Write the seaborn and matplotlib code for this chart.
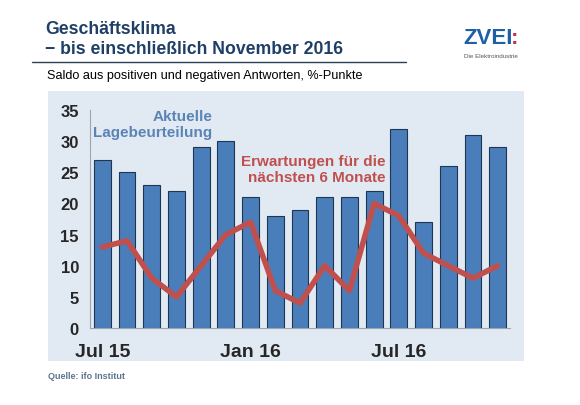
import matplotlib.pyplot as plt
import matplotlib.patches as patches
import seaborn as sns
import pandas as pd

# Monate Jul 15 .. Nov 16
months = ['Jul 15', 'Aug 15', 'Sep 15', 'Okt 15', 'Nov 15', 'Dez 15',
          'Jan 16', 'Feb 16', 'Mrz 16', 'Apr 16', 'Mai 16', 'Jun 16',
          'Jul 16', 'Aug 16', 'Sep 16', 'Okt 16', 'Nov 16']
lage = [27, 25, 23, 22, 29, 30, 21, 18, 19, 21, 21, 22, 32, 17, 26, 31, 29]
erwartungen = [13, 14, 8, 5, 10, 15, 17, 6, 4, 10, 6, 20, 18, 12, 10, 8, 10]
shown_ticks = ['Jul 15', 'Jan 16', 'Jul 16']

bar_color = '#4a7ebb'
line_color = '#c0504d'
panel_color = '#e1eaf3'

df = pd.DataFrame({'monat': months, 'lage': lage, 'erw': erwartungen})

sns.set_style('white')
plt.rcParams['font.family'] = ['Liberation Sans', 'DejaVu Sans']

fig = plt.figure(figsize=(5.8, 4.06), dpi=100)

# hellblauer Hintergrund hinter dem Diagramm
fig.patches.append(patches.Rectangle((48 / 580, 44 / 406), 476 / 580, 270 / 406,
                                     transform=fig.transFigure, facecolor=panel_color,
                                     edgecolor='none', zorder=-10))

ax = fig.add_axes([90 / 580, 77 / 406, 420 / 580, 218 / 406])
ax.set_facecolor('none')

sns.barplot(data=df, x='monat', y='lage', order=months, color=bar_color,
            saturation=1, width=0.68, edgecolor='#1f3550', linewidth=0.8, ax=ax)
sns.lineplot(data=df, x='monat', y='erw', color=line_color, linewidth=4,
             sort=False, ax=ax)

ax.set_xlim(-0.5, 16.5)
ax.set_ylim(0, 35)
ax.set_yticks(range(0, 36, 5))
ax.set_yticklabels([str(v) for v in range(0, 36, 5)], fontsize=12, fontweight='bold')
ax.set_xticks([months.index(m) for m in shown_ticks])
ax.set_xticklabels(shown_ticks, fontsize=14, fontweight='bold')
ax.tick_params(axis='x', length=0, pad=11)
ax.tick_params(axis='y', length=0, pad=8)
ax.set_xlabel('')
ax.set_ylabel('')
for s in ['top', 'right']:
    ax.spines[s].set_visible(False)
ax.spines['left'].set_color('#9aa5b1')
ax.spines['bottom'].set_color('#9aa5b1')

ax.text(4.45, 35.2, 'Aktuelle\nLagebeurteilung', ha='right', va='top',
        fontsize=11, fontweight='bold', color='#5b83b5', linespacing=1.2, zorder=5)
ax.text(11.45, 27.9, 'Erwartungen für die\nnächsten 6 Monate', ha='right', va='top',
        fontsize=11, fontweight='bold', color=line_color, linespacing=1.2, zorder=5)

# Titel
fig.text(45 / 580, 1 - 29 / 406, 'Geschäftsklima', fontsize=12.7, fontweight='bold',
         color='#1f3f66', va='center')
fig.text(45 / 580, 1 - 50 / 406, '− bis einschließlich November 2016', fontsize=12.7,
         fontweight='bold', color='#1f3f66', va='center')
fig.add_artist(plt.Line2D([32 / 580, 406 / 580], [1 - 63 / 406, 1 - 63 / 406],
                          color='#2b3f55', linewidth=1))
fig.text(47 / 580, 1 - 76 / 406, 'Saldo aus positiven und negativen Antworten, %-Punkte',
         fontsize=9.1, color='black', va='center')

# Logo
fig.text(463 / 580, 1 - 38 / 406, 'ZVEI', fontsize=16, fontweight='bold',
         color='#1f5fa8', va='center')
fig.text(511 / 580, 1 - 38 / 406, ':', fontsize=16, fontweight='bold',
         color='#c8334d', va='center')
fig.text(464 / 580, 1 - 57 / 406, 'Die Elektroindustrie', fontsize=4.5,
         color='#555555', va='center')

fig.text(48 / 580, 1 - 377 / 406, 'Quelle: ifo Institut', fontsize=6.5,
         fontweight='bold', color='#5f7690', va='center')

fig.savefig('out.png', dpi=100)
